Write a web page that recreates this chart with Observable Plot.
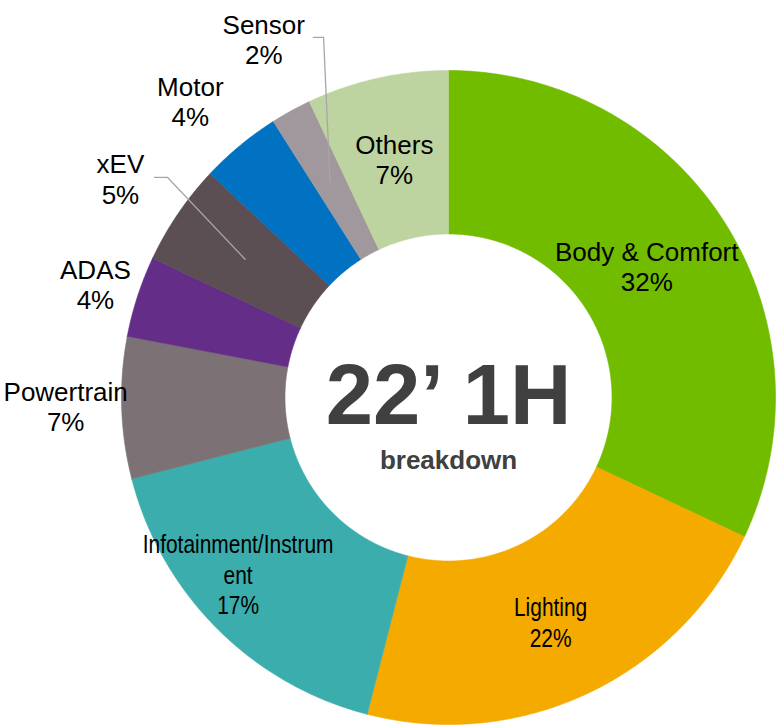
<!DOCTYPE html>
<html>
<head>
<meta charset="utf-8">
<script src="https://cdn.jsdelivr.net/npm/d3@7"></script>
<script src="https://cdn.jsdelivr.net/npm/@observablehq/plot@0.6"></script>
<style>
  html, body { margin: 0; padding: 0; background: #fff; }
  #chart svg { display: block; }
</style>
</head>
<body>
<div id="chart"></div>
<script>
// ---- data ----
const categories = ["Body & Comfort", "Lighting", "Infotainment/Instrument", "Powertrain", "ADAS", "xEV", "Motor", "Sensor", "Others"];
const shares = [32, 22, 17, 7, 4, 5, 4, 2, 7];
const labelTexts = ["Body & Comfort", "Lighting", "Infotainment/Instrum\nent", "Powertrain", "ADAS", "xEV", "Motor", "Sensor", "Others"];
const centerTitle = "22\u2019 1H";
const centerSubtitle = "breakdown";

// ---- style / layout ----
const colors = ["#72BC00", "#F5AA00", "#3BADAD", "#7C7276", "#632D88", "#5B4F53", "#0072C1", "#A0989C", "#BED4A0"];
const W = 781, H = 728, CX = 448, CY = 397, R = 327;
const INNER = 0.5;
// label placement: [radius, angle offset in degrees from slice mid-angle]
const labelLayout = {
  "Body & Comfort": [0.727, -1.1],
  "Lighting": [0.753, 0.7],
  "Infotainment/Instrument": [0.840, 5],
  "Powertrain": [1.171, 0.5],
  "ADAS": [1.134, -0.2],
  "xEV": [1.206, -0.5],
  "Motor": [1.201, -1.5],
  "Sensor": [1.232, 1.5],
  "Others": [0.747, -0.2]
};
const narrowLabels = ["Lighting", "Infotainment/Instrum"];
const NARROW_SCALE = 0.805;
// leader lines: slice-centroid -> elbow -> end (unit coordinates)
const leaders = {
  "xEV": [[-0.859, 0.673], [-0.899, 0.673]],
  "Sensor": [[-0.382, 1.101], [-0.413, 1.101]]
};

const total = d3.sum(shares);
const polar = (deg, r) => [r * Math.sin(deg * Math.PI / 180), r * Math.cos(deg * Math.PI / 180)];

// slice polygons
const slices = [];
let acc = 0;
const mids = {};
categories.forEach((c, i) => {
  const a0 = acc / total * 360, a1 = (acc + shares[i]) / total * 360;
  acc += shares[i];
  mids[c] = (a0 + a1) / 2;
  const n = Math.max(4, Math.ceil((a1 - a0) / 0.5));
  const pts = [];
  for (let k = 0; k <= n; k++) pts.push(polar(a0 + (a1 - a0) * k / n, 1));
  for (let k = n; k >= 0; k--) pts.push(polar(a0 + (a1 - a0) * k / n, INNER));
  pts.push(pts[0]);
  pts.forEach(([x, y]) => slices.push({category: c, x, y}));
});

// labels
const labels = categories.map((c, i) => {
  const [r, dAng] = labelLayout[c];
  const [x, y] = polar(mids[c] + dAng, r);
  return {category: c, x, y, text: labelTexts[i] + "\n" + shares[i] + "%"};
});

// leader line points
const leaderPts = [];
Object.entries(leaders).forEach(([c, rest]) => {
  const [sx, sy] = polar(mids[c], 0.752);
  leaderPts.push({category: c, x: sx, y: sy});
  rest.forEach(([x, y]) => leaderPts.push({category: c, x, y}));
});

const font = "'Liberation Sans', Arial, sans-serif";

const chart = Plot.plot({
  width: W,
  height: H,
  margin: 0,
  style: {background: "#fff", fontFamily: font},
  x: {domain: [-CX / R, (W - CX) / R], range: [0, W], axis: null},
  y: {domain: [(CY - H) / R, CY / R], range: [H, 0], axis: null},
  color: {domain: categories, range: colors},
  marks: [
    Plot.line(slices, {x: "x", y: "y", z: "category", fill: "category", stroke: "category", strokeWidth: 0.6, curve: "linear"}),
    Plot.line(leaderPts, {x: "x", y: "y", z: "category", stroke: "#A6A6A6", strokeWidth: 1.3}),
    Plot.text(labels, {x: "x", y: "y", text: "text", fontSize: 26, lineHeight: 1.17, fill: "#000", fontFamily: font}),
    Plot.text([centerTitle], {x: () => 0, y: () => (CY - 423) / R, text: d => d, fontSize: 85, fontWeight: "bold", fill: "#404040", lineAnchor: "bottom", fontFamily: font}),
    Plot.text([centerSubtitle], {x: () => 0, y: () => (CY - 468) / R, text: d => d, fontSize: 26, fontWeight: "bold", fill: "#404040", lineAnchor: "bottom", fontFamily: font})
  ]
});
// condense the two labels that the original sets in a narrow face
chart.querySelectorAll("text").forEach(t => {
  const content = t.textContent || "";
  if (!narrowLabels.some(s => content.startsWith(s))) return;
  let tr = t.getAttribute("transform");
  if (!tr) {
    const x = +(t.getAttribute("x") || 0), y = +(t.getAttribute("y") || 0);
    t.removeAttribute("x"); t.removeAttribute("y");
    tr = `translate(${x},${y})`;
  }
  t.setAttribute("transform", `${tr} scale(${NARROW_SCALE},1)`);
});
document.getElementById("chart").appendChild(chart);
</script>
</body>
</html>
